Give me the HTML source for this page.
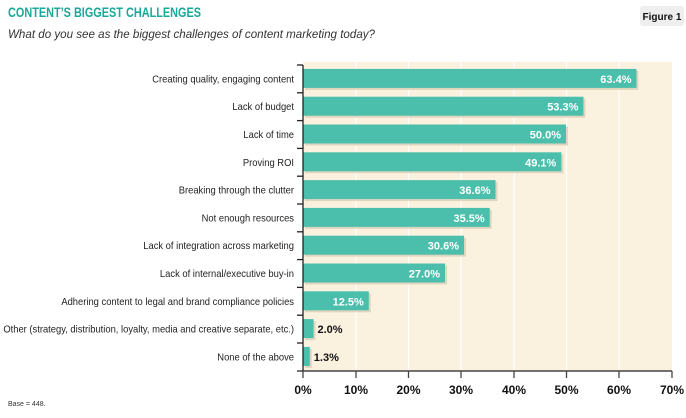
<!DOCTYPE html>
<html><head><meta charset="utf-8"><style>
body{margin:0;width:686px;height:413px;background:#fff;overflow:hidden;font-family:"Liberation Sans",sans-serif}
</style></head><body>
<svg width="686" height="413" xmlns="http://www.w3.org/2000/svg" font-family="Liberation Sans, sans-serif">
<text x="8" y="17" font-size="13.5" font-weight="bold" fill="#1aa898" textLength="193" lengthAdjust="spacingAndGlyphs">CONTENT’S BIGGEST CHALLENGES</text>
<rect x="640" y="6" width="44" height="20" rx="3" fill="#eeeeee"/>
<text x="662" y="20" font-size="10" font-weight="bold" text-anchor="middle" fill="#111">Figure 1</text>
<text x="8" y="38" font-size="11.5" font-style="italic" fill="#333" textLength="367" lengthAdjust="spacingAndGlyphs">What do you see as the biggest challenges of content marketing today?</text>
<rect x="303" y="62" width="369" height="309" fill="#fbf1df"/>
<g stroke="#fff" stroke-width="1.2">
<line x1="356" y1="62" x2="356" y2="371"/><line x1="408.5" y1="62" x2="408.5" y2="371"/><line x1="461" y1="62" x2="461" y2="371"/><line x1="514" y1="62" x2="514" y2="371"/><line x1="566.5" y1="62" x2="566.5" y2="371"/><line x1="619" y1="62" x2="619" y2="371"/>
</g>
<g fill="#e0d6c0">
<rect x="305" y="70.9" width="333.5" height="19"/>
<rect x="305" y="98.7" width="280.4" height="19"/>
<rect x="305" y="126.5" width="263" height="19"/>
<rect x="305" y="154.3" width="258.3" height="19"/>
<rect x="305" y="182.1" width="192.5" height="19"/>
<rect x="305" y="209.9" width="186.7" height="19"/>
<rect x="305" y="237.7" width="161" height="19"/>
<rect x="305" y="265.5" width="142" height="19"/>
<rect x="305" y="293.3" width="65.8" height="19"/>
<rect x="305" y="321.1" width="10.5" height="19"/>
<rect x="305" y="348.9" width="6.8" height="19"/>
</g>
<g fill="#4bbfac">
<rect x="303" y="68.9" width="333.5" height="19"/>
<rect x="303" y="96.7" width="280.4" height="19"/>
<rect x="303" y="124.5" width="263" height="19"/>
<rect x="303" y="152.3" width="258.3" height="19"/>
<rect x="303" y="180.1" width="192.5" height="19"/>
<rect x="303" y="207.9" width="186.7" height="19"/>
<rect x="303" y="235.7" width="161" height="19"/>
<rect x="303" y="263.5" width="142" height="19"/>
<rect x="303" y="291.3" width="65.8" height="19"/>
<rect x="303" y="319.1" width="10.5" height="19"/>
<rect x="303" y="346.9" width="6.8" height="19"/>
</g>
<g font-size="10" text-anchor="end" fill="#222" transform="translate(294,0) scale(0.94,1) translate(-294,0)">
<text x="294" y="82.4">Creating quality, engaging content</text>
<text x="294" y="110.2">Lack of budget</text>
<text x="294" y="138">Lack of time</text>
<text x="294" y="165.8">Proving ROI</text>
<text x="294" y="193.6">Breaking through the clutter</text>
<text x="294" y="221.4">Not enough resources</text>
<text x="294" y="249.2">Lack of integration across marketing</text>
<text x="294" y="277">Lack of internal/executive buy-in</text>
<text x="294" y="304.8">Adhering content to legal and brand compliance policies</text>
<text x="294" y="332.6">Other (strategy, distribution, loyalty, media and creative separate, etc.)</text>
<text x="294" y="360.4">None of the above</text>
</g>
<g font-size="11" font-weight="bold" text-anchor="end" fill="#fff">
<text x="631.5" y="82.9">63.4%</text>
<text x="578.4" y="110.7">53.3%</text>
<text x="561" y="138.5">50.0%</text>
<text x="556.3" y="166.3">49.1%</text>
<text x="490.5" y="194.1">36.6%</text>
<text x="484.7" y="221.9">35.5%</text>
<text x="459" y="249.7">30.6%</text>
<text x="440" y="277.5">27.0%</text>
<text x="363.8" y="305.3">12.5%</text>
</g>
<g font-size="11" font-weight="bold" fill="#111">
<text x="317.5" y="333.1">2.0%</text>
<text x="313.8" y="360.9">1.3%</text>
</g>
<g stroke="#222" stroke-width="1.3">
<line x1="297" y1="65" x2="303" y2="65"/><line x1="297" y1="92.8" x2="303" y2="92.8"/><line x1="297" y1="120.6" x2="303" y2="120.6"/><line x1="297" y1="148.4" x2="303" y2="148.4"/><line x1="297" y1="176.2" x2="303" y2="176.2"/><line x1="297" y1="204" x2="303" y2="204"/><line x1="297" y1="231.8" x2="303" y2="231.8"/><line x1="297" y1="259.6" x2="303" y2="259.6"/><line x1="297" y1="287.4" x2="303" y2="287.4"/><line x1="297" y1="315.2" x2="303" y2="315.2"/><line x1="297" y1="343" x2="303" y2="343"/>
<line x1="303" y1="65" x2="303" y2="371"/>
<line x1="297" y1="371" x2="672" y2="371"/>
</g>
<g stroke="#444" stroke-width="1.3">
<line x1="303" y1="371" x2="303" y2="378"/><line x1="356" y1="371" x2="356" y2="378"/><line x1="408.5" y1="371" x2="408.5" y2="378"/><line x1="461" y1="371" x2="461" y2="378"/><line x1="514" y1="371" x2="514" y2="378"/><line x1="566.5" y1="371" x2="566.5" y2="378"/><line x1="619" y1="371" x2="619" y2="378"/><line x1="672" y1="371" x2="672" y2="378"/>
</g>
<g font-size="12" font-weight="bold" text-anchor="middle" fill="#111">
<text x="303" y="394">0%</text><text x="356" y="394">10%</text><text x="408.5" y="394">20%</text><text x="461" y="394">30%</text><text x="514" y="394">40%</text><text x="566.5" y="394">50%</text><text x="619" y="394">60%</text><text x="672" y="394">70%</text>
</g>
<text x="8" y="406" font-size="7" fill="#333">Base = 448.</text>
</svg>
</body></html>
